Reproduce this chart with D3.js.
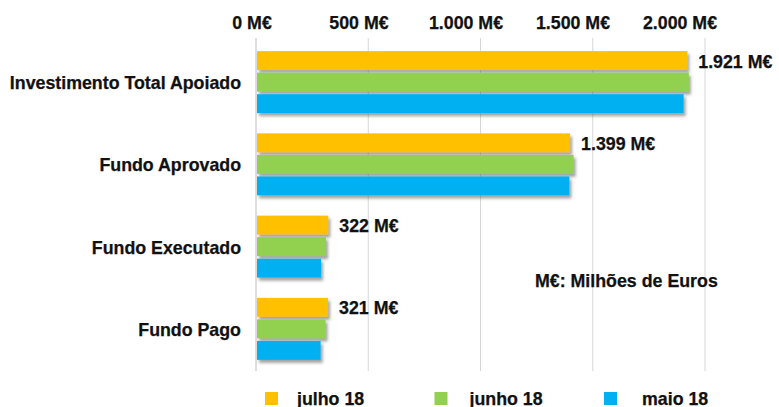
<!DOCTYPE html>
<html><head><meta charset="utf-8">
<script src="https://cdn.jsdelivr.net/npm/d3@7"></script>
<style>
html,body{margin:0;padding:0;background:#fff;}
text{font-family:"Liberation Sans",Arial,sans-serif;font-weight:bold;fill:#111;stroke:#111;stroke-width:0.25px;}
</style></head>
<body>
<svg id="chart" width="779" height="407"></svg>
<script>
const categories = ["Investimento Total Apoiado", "Fundo Aprovado", "Fundo Executado", "Fundo Pago"];
const seriesNames = ["julho 18", "junho 18", "maio 18"];
const julho = [1921, 1399, 322, 321];
const junho = [1928, 1415, 312, 310];
const maio = [1905, 1396, 290, 288];
const tickValues = [0, 500, 1000, 1500, 2000];
const colors = ["#FFC000", "#92D050", "#00B0F0"];
const noteText = "M€: Milhões de Euros";

const seriesValues = [julho, junho, maio];
const locale = d3.formatLocale({decimal: ",", thousands: ".", grouping: [3], currency: ["", " M€"]});
const fmt = v => locale.format(",.0f")(v) + " M€";
const FS = 17.8;

const svg = d3.select("#chart");
const defs = svg.append("defs");
const f = defs.append("filter").attr("id", "sh").attr("x", "-5%").attr("y", "-30%").attr("width", "115%").attr("height", "190%");
f.append("feDropShadow").attr("dx", 2).attr("dy", 3).attr("stdDeviation", 1.6).attr("flood-color", "#555").attr("flood-opacity", 0.55);

const x = d3.scaleLinear().domain([0, 2000]).range([256, 705]);
const xLab = d3.scaleLinear().domain([0, 2000]).range([252, 680]);
const y0 = d3.scaleBand().domain(categories).range([41, 370]).paddingInner(0.246).paddingOuter(0.123);
const y1 = d3.scaleBand().domain(seriesNames).range([0, y0.bandwidth()]).paddingInner(0.12);

// gridlines
svg.append("g").selectAll("line").data(tickValues.slice(1)).join("line")
  .attr("x1", d => x(d)).attr("x2", d => x(d)).attr("y1", 38).attr("y2", 371)
  .attr("stroke", "#d6d6d6").attr("stroke-width", 1);
// left axis line
svg.append("line").attr("x1", x(0)).attr("x2", x(0)).attr("y1", 38).attr("y2", 371)
  .attr("stroke", "#c8c8c8").attr("stroke-width", 1.2);

// top tick labels
svg.append("g").selectAll("text").data(tickValues).join("text")
  .attr("x", d => xLab(d)).attr("y", 28.5).attr("text-anchor", "middle")
  .attr("font-size", FS).text(d => fmt(d));

// bars
const g = svg.append("g");
categories.forEach((c, ci) => {
  seriesNames.forEach((s, si) => {
    g.append("rect")
      .attr("x", x(0) + 1)
      .attr("y", y0(c) + y1(s))
      .attr("width", x(seriesValues[si][ci]) - x(0) - 1)
      .attr("height", y1.bandwidth())
      .attr("fill", colors[si])
      .attr("filter", "url(#sh)");
  });
});

// category labels
svg.append("g").selectAll("text").data(categories).join("text")
  .attr("x", 241).attr("y", d => y0(d) + y0.bandwidth() / 2 + 1)
  .attr("dominant-baseline", "central").attr("text-anchor", "end")
  .attr("font-size", FS).text(d => d);

// value labels (julho 18)
svg.append("g").selectAll("text").data(categories).join("text")
  .attr("x", (d, i) => x(julho[i]) + 11)
  .attr("y", d => y0(d) + y1(seriesNames[0]) + y1.bandwidth() / 2 + 1)
  .attr("dominant-baseline", "central")
  .attr("font-size", FS).text((d, i) => fmt(julho[i]));

// note
svg.append("text").attr("x", 535).attr("y", 281).attr("dominant-baseline", "central")
  .attr("font-size", FS).text(noteText);

// legend
const legX = d3.scalePoint().domain(seriesNames).range([265, 604]);
const leg = svg.append("g").selectAll("g").data(seriesNames).join("g")
  .attr("transform", d => `translate(${legX(d)},0)`);
leg.append("rect").attr("x", 0).attr("y", 392).attr("width", 13).attr("height", 13)
  .attr("fill", (d, i) => colors[i]);
leg.append("text").attr("x", (d, i) => [32, 35, 38][i]).attr("y", 398.5)
  .attr("dominant-baseline", "central").attr("font-size", FS).text(d => d);
</script>
</body></html>
